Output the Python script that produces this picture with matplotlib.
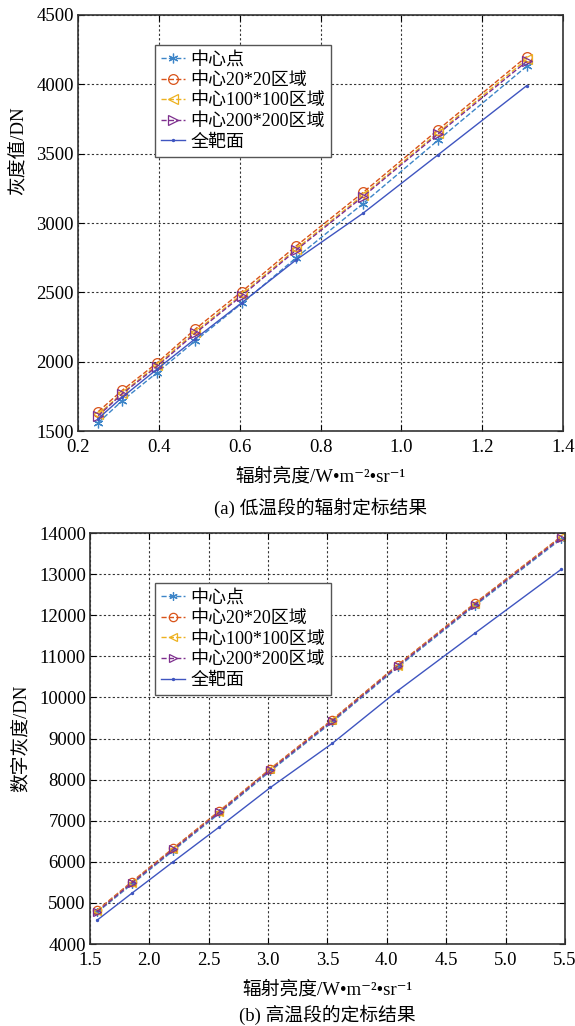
import numpy as np
import matplotlib.pyplot as plt

plt.rcParams['font.family'] = ['Liberation Serif', 'Noto Sans CJK SC', 'DejaVu Serif']
plt.rcParams['axes.unicode_minus'] = False

# 数据: 低温段
x_low = [0.25, 0.31, 0.395, 0.49, 0.605, 0.74, 0.905, 1.09, 1.31]
low_center = [1560, 1720, 1920, 2150, 2420, 2750, 3140, 3595, 4130]
low_20 = [1640, 1795, 1990, 2235, 2505, 2835, 3220, 3670, 4200]
low_100 = [1620, 1775, 1975, 2215, 2485, 2815, 3200, 3650, 4180]
low_200 = [1610, 1770, 1965, 2205, 2475, 2805, 3190, 3640, 4165]
low_full = [1590, 1745, 1945, 2165, 2425, 2735, 3070, 3490, 3990]

# 数据: 高温段
x_high = [1.56, 1.85, 2.2, 2.59, 3.02, 3.54, 4.09, 4.74, 5.47]
high_center = [4770, 5450, 6270, 7180, 8210, 9400, 10730, 12230, 13860]
high_20 = [4820, 5510, 6330, 7240, 8270, 9460, 10790, 12290, 13920]
high_100 = [4800, 5490, 6310, 7220, 8250, 9440, 10770, 12270, 13900]
high_200 = [4790, 5480, 6300, 7210, 8240, 9430, 10760, 12260, 13890]
high_full = [4580, 5230, 6000, 6850, 7810, 8880, 10160, 11560, 13120]

labels = ['中心点', '中心20*20区域', '中心100*100区域', '中心200*200区域', '全靶面']
colors = ['#3D85C8', '#D95319', '#EDB120', '#7E2F8E', '#3F55C0']
markers = [(6, 2, 0), 'o', '<', '>', '.']

xlabel = '辐射亮度/W\u2022m\u207b\u00b2\u2022sr\u207b\u00b9'


def draw(ax, x, series, xlim, ylim, xticks, yticks, ylabel, ylab_pos, caption, cap_y, leg_pos, ms):
    for i, y in enumerate(series):
        ls = '-' if i == 4 else '--'
        ax.plot(x, y, linestyle=ls, color=colors[i], marker=markers[i],
                markersize=3 if i == 4 else ms,
                markerfacecolor='none' if i in (1, 2, 3) else colors[i],
                markeredgewidth=0.9, linewidth=1.0, label=labels[i])
    ax.set_xlim(xlim)
    ax.set_ylim(ylim)
    ax.set_xticks(xticks)
    ax.set_xticklabels(['%.1f' % t for t in xticks])
    ax.set_yticks(yticks)
    ax.grid(True, linestyle=(0, (2, 2)), color='#333333', linewidth=0.8)
    ax.tick_params(direction='in', top=True, right=True, labelsize=13.5, length=4)
    ax.tick_params(axis='x', pad=6)
    ax.tick_params(axis='y', pad=3)
    for s in ax.spines.values():
        s.set_linewidth(1.2)
        s.set_color('#333333')
    ax.set_ylabel(ylabel, fontsize=13.5)
    ax.yaxis.set_label_coords(*ylab_pos)
    ax.set_xlabel(xlabel, fontsize=13.5, labelpad=8)
    ax.text(0.5, cap_y, caption, transform=ax.transAxes, ha='center', va='top', fontsize=13.5)
    leg = ax.legend(loc='upper left', bbox_to_anchor=leg_pos, borderaxespad=0,
                    fontsize=13, fancybox=False, framealpha=1, edgecolor='#555555',
                    handlelength=1.3, handletextpad=0.3, labelspacing=0.2,
                    borderpad=0.35)
    leg.get_frame().set_linewidth(1.0)


fig = plt.figure(figsize=(5.75, 10.26), dpi=100)
ax1 = fig.add_axes([0.1357, 0.5799, 0.8435, 0.4055])
ax2 = fig.add_axes([0.1565, 0.0799, 0.8261, 0.4006])

draw(ax1, x_low, [low_center, low_20, low_100, low_200, low_full],
     (0.2, 1.4), (1500, 4500), np.arange(0.2, 1.41, 0.2), np.arange(1500, 4501, 500),
     '灰度值/DN', (-0.103, 0.675), '(a) 低温段的辐射定标结果', -0.16, (0.159, 0.928), 7)
draw(ax2, x_high, [high_center, high_20, high_100, high_200, high_full],
     (1.5, 5.5), (4000, 14000), np.arange(1.5, 5.51, 0.5), np.arange(4000, 14001, 1000),
     '数字灰度/DN', (-0.126, 0.5), '(b) 高温段的定标结果', -0.148, (0.137, 0.878), 6)

fig.savefig('out.png', dpi=100)
